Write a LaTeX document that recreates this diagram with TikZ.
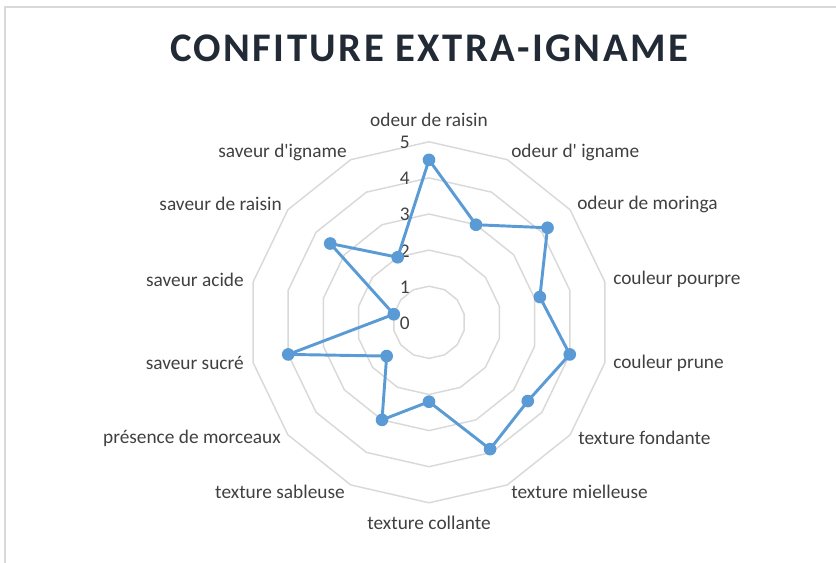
\documentclass[tikz,border=0pt]{standalone}
\usepackage{fontspec}
\setmainfont{Carlito}[Ligatures=TeXOff]
\definecolor{serieblue}{HTML}{5B9BD5}
\definecolor{gridgray}{HTML}{D9D9D9}
\definecolor{framegray}{HTML}{D9D9D9}
\definecolor{labelgray}{HTML}{404040}
\definecolor{titledark}{HTML}{222A35}
\begin{document}
\begin{tikzpicture}[x=0.75pt,y=-0.75pt,
  ring/.style={draw=gridgray,line width=1.1pt,line join=round},
  serie/.style={draw=serieblue,line width=2.2pt,line join=round},
  marker/.style={circle,fill=serieblue,inner sep=0pt,minimum size=9.5pt},
  axlabel/.style={text=labelgray,font=\fontsize{14.5}{17}\selectfont,inner sep=0pt},
  ticklabel/.style={text=labelgray,font=\fontsize{14.5}{17}\selectfont,inner sep=0pt,anchor=east},
  titlestyle/.style={text=titledark,font=\fontsize{30.5}{36}\bfseries\addfontfeature{LetterSpace=6}},
]
\useasboundingbox (0,0) rectangle (836,563);
\draw[framegray,line width=0.8pt] (5,563) -- (5,7) -- (836,7);
\node[titlestyle] (title) at (429,48) {CONFITURE EXTRA-IGNAME};
% rings
\foreach \l in {1,...,5}{
  \draw[ring] (429,{322.3-36.1*\l})
    \foreach \k in {1,...,13}{ -- ({429+36.1*\l*sin(\k*360/14)},{322.3-36.1*\l*cos(\k*360/14)}) } -- cycle;
}
% tick labels
\foreach \l in {0,...,5}{
  \node[ticklabel] (t\l) at (410,{323-36.1*\l}) {\l};
}
% data points
\foreach \v [count=\k from 0] in {4.5,3,4.2,3.15,4,3.5,3.9,2.2,3,1.5,4,1,3.5,2}{
  \coordinate (p\k) at ({429+36.1*\v*sin(\k*360/14)},{322.3-36.1*\v*cos(\k*360/14)});
}
\draw[serie] (p0) -- (p1) -- (p2) -- (p3) -- (p4) -- (p5) -- (p6) -- (p7) -- (p8) -- (p9) -- (p10) -- (p11) -- (p12) -- (p13) -- cycle;
\foreach \k in {0,...,13}{
  \node[marker] (m\k) at (p\k) {};
}
% axis labels
\node[axlabel] (l0) at (429,120) {odeur de raisin};
\node[axlabel,anchor=west] (l1) at (511,152) {odeur d' igname};
\node[axlabel,anchor=west] (l2) at (577,204) {odeur de moringa};
\node[axlabel,anchor=west] (l3) at (613,279) {couleur pourpre};
\node[axlabel,anchor=west] (l4) at (613,363) {couleur prune};
\node[axlabel,anchor=west] (l5) at (578,438) {texture fondante};
\node[axlabel,anchor=west] (l6) at (511,492) {texture mielleuse};
\node[axlabel] (l7) at (429,523) {texture collante};
\node[axlabel,anchor=east] (l8) at (345,492) {texture sableuse};
\node[axlabel,anchor=east] (l9) at (281,438) {présence de morceaux};
\node[axlabel,anchor=east] (l10) at (244,363) {saveur sucré};
\node[axlabel,anchor=east] (l11) at (244,280) {saveur acide};
\node[axlabel,anchor=east] (l12) at (282,204) {saveur de raisin};
\node[axlabel,anchor=east] (l13) at (347,152) {saveur d'igname};
\end{tikzpicture}
\end{document}
